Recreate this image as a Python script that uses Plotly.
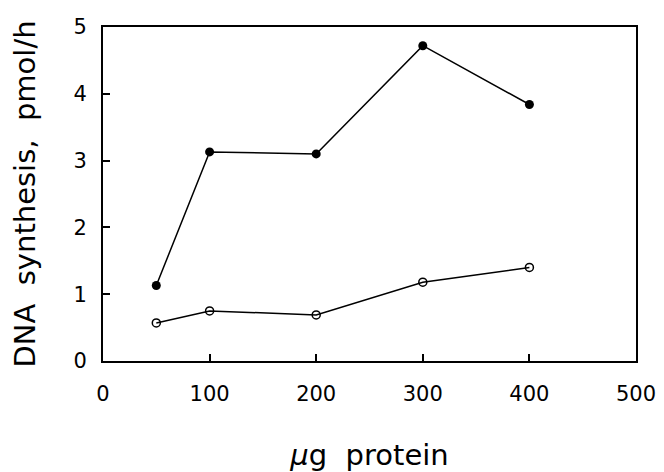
import plotly.graph_objects as go

protein_ug = [50, 100, 200, 300, 400]
filled_series = [1.13, 3.13, 3.10, 4.72, 3.84]
open_series = [0.57, 0.75, 0.69, 1.18, 1.40]
x_ticks = [0, 100, 200, 300, 400, 500]
y_ticks = [0, 1, 2, 3, 4, 5]

FONT = "DejaVu Sans"

fig = go.Figure()
fig.add_trace(go.Scatter(
    x=protein_ug, y=filled_series, mode="lines+markers",
    line=dict(color="black", width=1.5),
    marker=dict(symbol="circle", size=9, color="black"),
    showlegend=False,
))
fig.add_trace(go.Scatter(
    x=protein_ug, y=open_series, mode="lines+markers",
    line=dict(color="black", width=1.5),
    marker=dict(symbol="circle-open", size=8, color="black", line=dict(width=1.5)),
    showlegend=False,
))

# page body has an 8px margin, so the figure is shrunk and margins shifted
fig.update_layout(
    width=656, height=464,
    margin=dict(l=95, r=28, t=19, b=111),
    paper_bgcolor="white", plot_bgcolor="white",
    font=dict(family=FONT, color="black", size=21),
)
fig.update_xaxes(
    range=[0, 500], tickvals=x_ticks, ticks="inside", ticklen=7, tickwidth=1.5,
    tickcolor="black", showline=True, linecolor="black", linewidth=2, mirror=True,
    showgrid=False, zeroline=False, ticklabelstandoff=13, automargin=False,
    tickfont=dict(size=21, family=FONT),
    title=dict(text="<i>μ</i>g  protein", font=dict(size=29, family=FONT), standoff=40),
)
fig.update_yaxes(
    range=[0, 5], tickvals=y_ticks, ticks="inside", ticklen=7, tickwidth=1.5,
    tickcolor="black", showline=True, linecolor="black", linewidth=2, mirror=True,
    showgrid=False, zeroline=False, ticklabelstandoff=10, automargin=False,
    tickfont=dict(size=21, family=FONT),
    title=dict(text="DNA  synthesis,  pmol/h", font=dict(size=29, family=FONT), standoff=36),
)
fig.write_html("out.html")
